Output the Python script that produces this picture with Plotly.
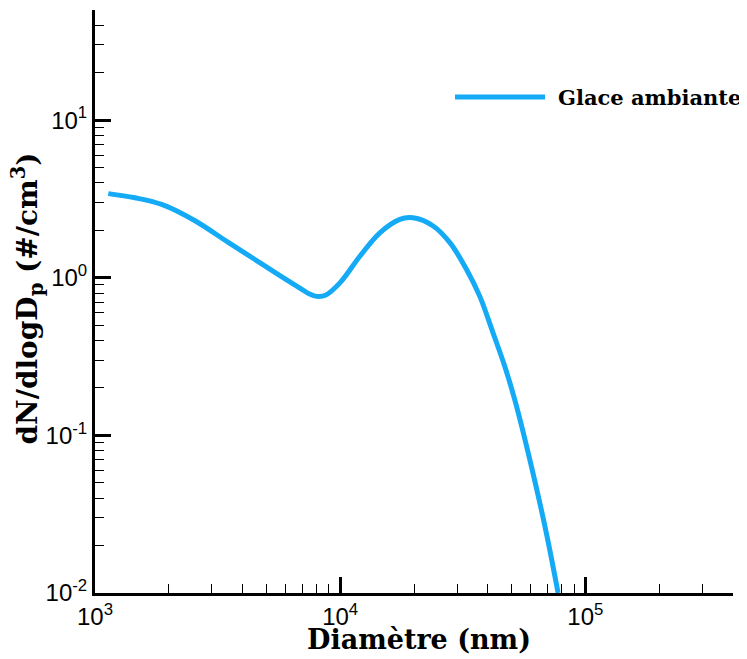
import plotly.graph_objects as go
import math

# Data
diametre_nm = [1133, 1455, 1870, 2557, 3495, 4490, 5679, 6900, 7500, 8014, 8700,
               9972, 12030, 14510, 17510, 19840, 23940, 28010, 32760, 37110,
               42040, 46930, 51540, 60300, 69400, 77400]
dn_dlogdp = [3.42, 3.22, 2.92, 2.30, 1.675, 1.306, 1.033, 0.854, 0.788, 0.762, 0.774,
             0.928, 1.37, 1.93, 2.35, 2.40, 2.13, 1.67, 1.13, 0.762,
             0.446, 0.2735, 0.168, 0.0632, 0.0238, 0.0100]
series_name = "Glace ambiante"
x_tick_vals = [1e3, 1e4, 1e5]
x_tick_text = ["10<sup>3</sup>", "10<sup>4</sup>", "10<sup>5</sup>"]
y_tick_vals = [1e-2, 1e-1, 1e0, 1e1]
y_tick_text = ["10<sup>-2</sup>", "10<sup>-1</sup>", "10<sup>0</sup>", "10<sup>1</sup>"]
minor_digits = [2, 3, 4, 5, 6, 7, 8, 9]
x_decades = [1e3, 1e4, 1e5]
y_decades = [1e-2, 1e-1, 1e0, 1e1]

LINE_COLOR = "#14AAF5"
SERIF = "DejaVu Serif"
SANS = "Liberation Sans, Arial"

fig = go.Figure()
fig.add_trace(go.Scatter(
    x=diametre_nm, y=dn_dlogdp, mode="lines", name=series_name,
    line=dict(color=LINE_COLOR, width=5, shape="spline", smoothing=1.0),
    showlegend=False,
))


def axis_common(decades):
    return dict(
        showgrid=False, zeroline=False, showline=True, linecolor="black",
        linewidth=3, ticks="inside", ticklen=16, tickwidth=2.5, tickcolor="black",
        tickfont=dict(family=SANS, size=24, color="black"),
        automargin=False,
        minor=dict(ticks="inside", ticklen=9, tickwidth=1, tickcolor="black",
                   tickvals=[d * m for d in decades for m in minor_digits],
                   showgrid=False),
    )


fig.update_xaxes(
    type="log", range=[3, math.log10(4e5)],
    tickvals=x_tick_vals, ticktext=x_tick_text,
    **axis_common(x_decades),
)
fig.update_yaxes(
    type="log", range=[-2, math.log10(50)],
    tickvals=y_tick_vals, ticktext=y_tick_text,
    **axis_common(y_decades),
)

# Axis titles as annotations for exact placement
fig.add_annotation(xref="paper", yref="paper", x=0.5, y=0,
                   xanchor="center", yanchor="top", yshift=-29, xshift=5,
                   text="<b>Diamètre (nm)</b>", showarrow=False,
                   font=dict(family=SERIF, size=27, color="black"))
fig.add_annotation(xref="paper", yref="paper", x=0, y=0.5,
                   xanchor="center", yanchor="middle", xshift=-67, yshift=3,
                   textangle=-90,
                   text="<b>dN/dlogD<sub>p</sub> (#/cm<sup>3</sup>)</b>",
                   showarrow=False,
                   font=dict(family=SERIF, size=28, color="black"))

# Legend drawn manually (long line sample like the reference)
fig.add_shape(type="line", xref="paper", yref="paper",
              x0=(455 - 95) / 638, x1=(545 - 95) / 638,
              y0=(593 - 97) / 583, y1=(593 - 97) / 583,
              line=dict(color=LINE_COLOR, width=5))
fig.add_annotation(xref="paper", yref="paper",
                   x=(556 - 95) / 638, y=(593 - 97) / 583,
                   text="<b>" + series_name + "</b>", showarrow=False,
                   xanchor="left", yanchor="middle",
                   font=dict(family=SERIF, size=21, color="black"))

# The page body has an 8px default margin: size the figure so that the
# plot area lands where the reference has it inside the 747x659 window.
fig.update_layout(
    width=739, height=651,
    margin=dict(l=87, r=14, t=2, b=66),
    paper_bgcolor="white", plot_bgcolor="white",
)

fig.write_html("out.html")
